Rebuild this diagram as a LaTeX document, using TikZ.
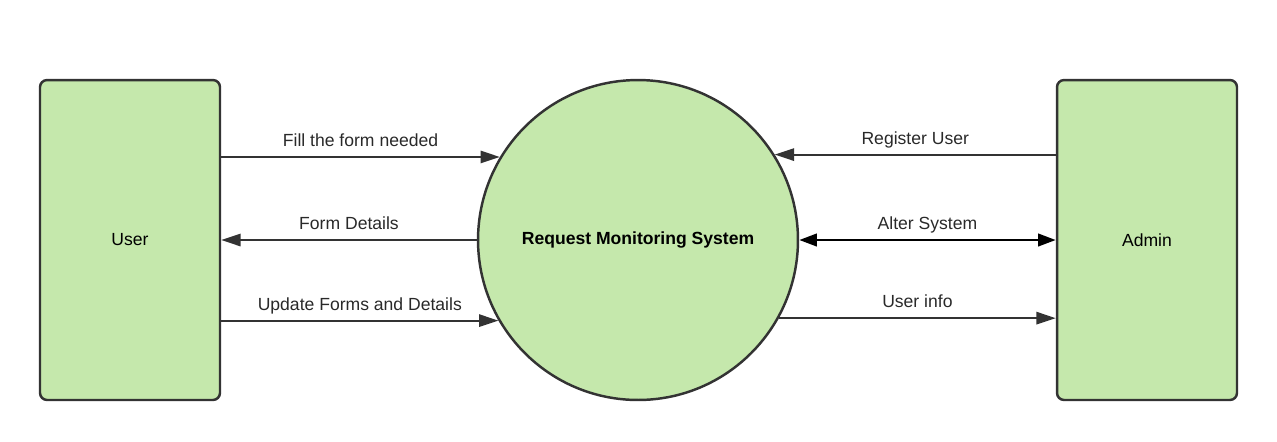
\documentclass[tikz,border=0pt]{standalone}
\usepackage{fontspec}
\setmainfont{Liberation Sans}
\usetikzlibrary{arrows.meta}
\definecolor{boxgreen}{HTML}{C5E8AC}
\definecolor{edgegray}{HTML}{333333}

\begin{document}
\begin{tikzpicture}[x=0.02cm, y=-0.02cm, font=\fontsize{10}{12}\selectfont,
                        entity/.style={rectangle, rounded corners=4pt, draw=edgegray, line width=1.4pt, fill=boxgreen,
                                       minimum width=3.6cm, minimum height=6.4cm, inner sep=0pt},
                        process/.style={circle, draw=edgegray, line width=1.4pt, fill=boxgreen, minimum size=6.4cm,
                                        inner sep=0pt, font=\bfseries\fontsize{10}{12}\selectfont},
                        flow/.style={draw=edgegray, line width=1.1pt, -{Triangle[length=11pt, width=7pt]}},
                        alter/.style={draw=black, line width=1.6pt, {Triangle[length=10pt, width=7pt]}-{Triangle[length=10pt, width=7pt]}},
                        flowtext/.style={above=2pt, midway, text depth=0pt, text=edgegray!80!black}]

                        \useasboundingbox (0,0) rectangle (1277,441);

                        % Define nodes
                        \node[entity] (user) at (130,240) {User}; % External entity
                        \node[process] (rms) at (638,240) {Request Monitoring System}; % Process
                        \node[entity] (admin) at (1147,240) {Admin}; % External entity

                        % Define edges
                        \draw[flow] (user.east |- rms.149) -- node[flowtext] {Fill the form needed} (rms.149);
                        \draw[flow] (rms.west) -- node[flowtext] {Form Details} (user.east);
                        \draw[flow] (user.east |- rms.210) -- node[flowtext] {Update Forms and Details} (rms.210);
                        \draw[flow] (admin.west |- rms.32) -- node[flowtext] {Register User} (rms.32);
                        \draw[alter] (rms.east) -- node[flowtext] {Alter System} (admin.west);
                        \draw[flow] (rms.-29) -- node[flowtext] {User info} (admin.west |- rms.-29);
                        \end{tikzpicture}
\end{document}
